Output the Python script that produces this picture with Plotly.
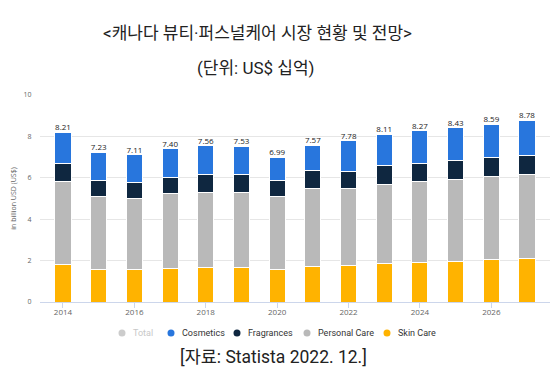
import plotly.graph_objects as go

years = [2014, 2015, 2016, 2017, 2018, 2019, 2020, 2021, 2022, 2023, 2024, 2025, 2026, 2027]
skin_care = [1.79, 1.58, 1.56, 1.64, 1.69, 1.67, 1.59, 1.72, 1.77, 1.85, 1.93, 1.95, 2.05, 2.09]
personal_care = [4.01, 3.51, 3.45, 3.59, 3.62, 3.61, 3.51, 3.77, 3.72, 3.85, 3.90, 3.98, 4.00, 4.09]
fragrances = [0.91, 0.79, 0.77, 0.79, 0.84, 0.86, 0.78, 0.84, 0.82, 0.89, 0.88, 0.91, 0.94, 0.92]
cosmetics = [1.50, 1.35, 1.33, 1.38, 1.41, 1.39, 1.11, 1.24, 1.47, 1.52, 1.56, 1.59, 1.60, 1.68]
totals = [8.21, 7.23, 7.11, 7.40, 7.56, 7.53, 6.99, 7.57, 7.78, 8.11, 8.27, 8.43, 8.59, 8.78]
total_labels = [f"{v:.2f}" for v in totals]
x_ticks = [2014, 2016, 2018, 2020, 2022, 2024, 2026]

series = [
    ("Skin Care", skin_care, "#ffb300"),
    ("Personal Care", personal_care, "#b9b9b9"),
    ("Fragrances", fragrances, "#0f2740"),
    ("Cosmetics", cosmetics, "#2876dd"),
]
legend_items = [("Total", "#cccccc", "#c8c8c8"), ("Cosmetics", "#2876dd", "#333333"),
                ("Fragrances", "#0f2740", "#333333"), ("Personal Care", "#b9b9b9", "#333333"),
                ("Skin Care", "#ffb300", "#333333")]

# page offset (default body margin of 8px)
OFF = 8
PL, PR, PT, PB = 40, 550, 95, 302  # plot area in screen pixels


def px(xs):
    return (xs - PL) / (PR - PL)


def py(ys):
    return (PB - ys) / (PB - PT)


fig = go.Figure()
for name, vals, col in series:
    fig.add_trace(go.Bar(
        x=years, y=vals, name=name, marker=dict(color=col, line=dict(color="#ffffff", width=1)),
        showlegend=False, hoverinfo="skip"))

fig.add_trace(go.Scatter(
    x=years, y=totals, mode="text", text=total_labels, textposition="top center",
    textfont=dict(family="Open Sans, sans-serif", size=8, color="#222222"),
    showlegend=False, hoverinfo="skip", cliponaxis=False))

# manual legend
legend_marker_x = [122, 171, 237, 307, 387]
shapes = []
annotations = []
for (name, col, tcol), mx in zip(legend_items, legend_marker_x):
    shapes.append(dict(type="circle", xref="paper", yref="paper", xsizemode="pixel", ysizemode="pixel",
                       xanchor=px(mx), yanchor=py(333), x0=-3.5, x1=3.5, y0=-3.5, y1=3.5,
                       fillcolor=col, line=dict(width=0)))
    annotations.append(dict(text=name, xref="paper", yref="paper", x=px(mx + 9), y=py(333),
                            xanchor="left", yanchor="middle", showarrow=False,
                            font=dict(family="Roboto, sans-serif", size=9, color=tcol)))

title_font = dict(family="Roboto, Noto Sans CJK KR, sans-serif", size=17, color="#222222")
annotations += [
    dict(text="&lt;캐나다 뷰티·퍼스널케어 시장 현황 및 전망&gt;", xref="paper", yref="paper",
         x=px(257), y=py(33), xanchor="center", yanchor="middle", showarrow=False, font=title_font),
    dict(text="(단위: US$ 십억)", xref="paper", yref="paper", x=px(256), y=py(68),
         xanchor="center", yanchor="middle", showarrow=False, font=title_font),
    dict(text="[자료: Statista 2022. 12.]", xref="paper", yref="paper", x=px(273), y=py(357),
         xanchor="center", yanchor="middle", showarrow=False,
         font=dict(family="Roboto, Noto Sans CJK KR, sans-serif", size=17.5, color="#222222")),
]

fig.update_layout(
    width=559 - OFF, height=372 - OFF,
    margin=dict(l=PL - OFF, r=559 - PR, t=PT - OFF, b=372 - PB, autoexpand=False),
    barmode="stack", bargap=0.55,
    plot_bgcolor="#ffffff", paper_bgcolor="#ffffff",
    showlegend=False,
    xaxis=dict(range=[2013.356, 2027.644], tickmode="array", tickvals=x_ticks,
               showgrid=False, showline=True, linecolor="#ccd6eb", linewidth=1,
               ticks="outside", ticklen=5, tickcolor="#ccd6eb", ticklabelstandoff=-3,
               tickfont=dict(family="Open Sans, sans-serif", size=8, color="#666666")),
    yaxis=dict(range=[0, 10], dtick=2, showgrid=True, gridcolor="#e6e6e6", gridwidth=1,
               zeroline=False, showline=False, ticks="outside", ticklen=6, tickcolor="rgba(0,0,0,0)",
               tickfont=dict(family="Open Sans, sans-serif", size=7, color="#666666"),
               title=dict(text="in billion USD (US$)", standoff=6,
                          font=dict(family="Open Sans, sans-serif", size=7, color="#666666"))),
    shapes=shapes,
    annotations=annotations,
)

fig.write_html("out.html")
